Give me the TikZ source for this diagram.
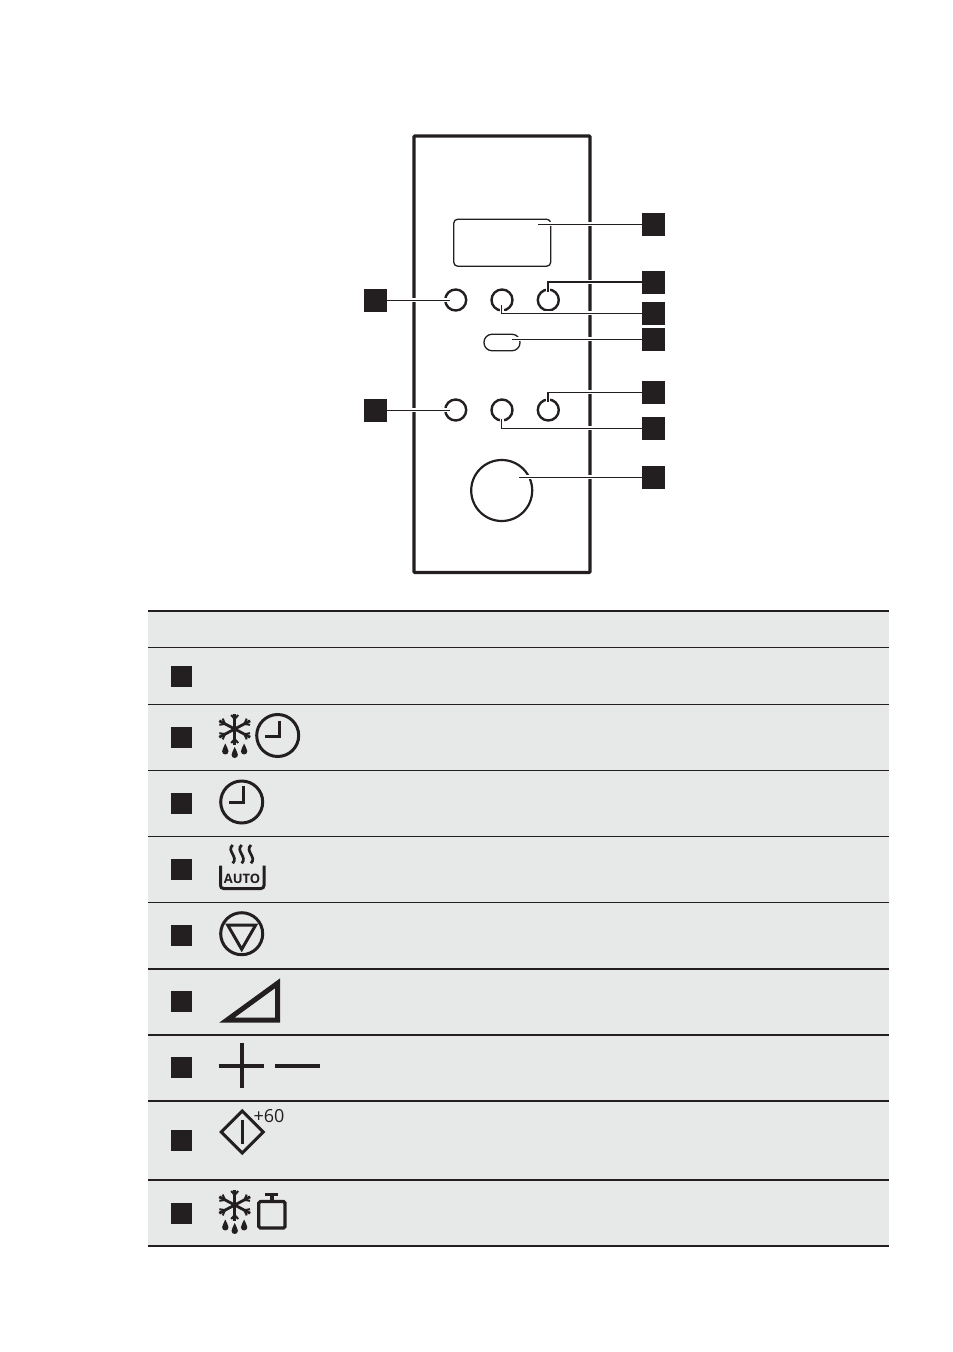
\documentclass[tikz,border=0pt]{standalone}
\usepackage{fontspec}
\setmainfont{Open Sans}
\definecolor{inkblack}{HTML}{231F20}
\definecolor{rowgray}{HTML}{E7E8E8}
\tikzset{
  keybox/.style={fill=inkblack,minimum size=23pt,inner sep=0pt},
  rowbox/.style={fill=inkblack,minimum size=21pt,inner sep=0pt},
  btn/.style={circle,draw=inkblack,line width=2.4pt,minimum size=21pt,inner sep=0pt},
  leader/.style={draw=inkblack,line width=1.4pt,preaction={draw=white,line width=4pt}},
  rule/.style={draw=inkblack,line width=1.3pt},
  rulethick/.style={draw=inkblack,line width=2.2pt},
  icon/.style={draw=inkblack,line width=3pt},
  snowdrops/.pic={
    \draw[icon,line width=2.8pt] (0,-15.5) -- (0,15.5);
    \foreach \a in {90,270}
      \draw[icon,line width=2pt,rotate=\a] (10,0) -- (14,3.5) (10,0) -- (14,-3.5);
    \foreach \a in {28,152,208,332}
      \draw[icon,line width=2.8pt,rotate=\a] (0,0) -- (17.5,0);
    \foreach \a in {28,152,208,332}
      \draw[icon,line width=2pt,rotate=\a] (11,0) -- (15.5,3.5) (11,0) -- (15.5,-3.5);
    \foreach \dx/\dy in {-9.4/20.5,0/24,9.4/20.5}
      \fill[inkblack,shift={(\dx,\dy)}] (0,-6) .. controls (1,-3) and (3.2,-0.5) .. (3.2,1.8)
        .. controls (3.2,6) and (-3.2,6) .. (-3.2,1.8) .. controls (-3.2,-0.5) and (-1,-3) .. (0,-6);
  }
}
\begin{document}
\begin{tikzpicture}[x=1pt,y=-1pt]
\useasboundingbox (0,0) rectangle (953,1352);
% panel
\draw[inkblack,line width=3.2pt,rounded corners=1pt] (414,136) rectangle (590,572.5);
\node[draw=inkblack,line width=1.3pt,rounded corners=4pt,minimum width=97pt,minimum height=47pt,inner sep=0pt] (display) at (502.2,242.7) {};
\node[btn] (btnA) at (455.7,300) {};
\node[btn] (btnB) at (502,300) {};
\node[btn] (btnC) at (548.3,300) {};
\node[btn] (btnD) at (455.7,410) {};
\node[btn] (btnE) at (502,410) {};
\node[btn] (btnF) at (548.3,410) {};
\node[draw=inkblack,line width=1.3pt,rounded corners=8pt,minimum width=36pt,minimum height=16.5pt,inner sep=0pt] (pill) at (502,342.5) {};
\node[circle,draw=inkblack,line width=2.2pt,minimum size=61pt,inner sep=0pt] (knob) at (501.7,490.5) {};
% keys
\node[keybox] (keyA) at (653.5,224.3) {};
\node[keybox] (keyB) at (653.5,282.3) {};
\node[keybox] (keyC) at (653.5,313.3) {};
\node[keybox] (keyD) at (653.5,339.3) {};
\node[keybox] (keyE) at (653.5,392.3) {};
\node[keybox] (keyF) at (653.5,428.3) {};
\node[keybox] (keyG) at (653.5,477.3) {};
\node[keybox] (keyH) at (375.5,300.3) {};
\node[keybox] (keyI) at (375.5,410.3) {};
% leader ends
\coordinate (tipA) at (538,224.3);
\coordinate (tipB) at (548,292);
\coordinate (tipC) at (501.7,305);
\coordinate (tipD) at (512.3,339.3);
\coordinate (tipE) at (548,401.7);
\coordinate (tipF) at (501.7,419.3);
\coordinate (tipG) at (519.3,477.3);
\coordinate (tipH) at (450,300.3);
\coordinate (tipI) at (450,410.3);
\draw[leader] (keyA.west) -- (tipA);
\draw[leader,line width=1.8pt] (keyB.west) -| (tipB);
\draw[leader] (keyC.west) -| (tipC);
\draw[leader] (keyD.west) -- (tipD);
\draw[leader] (keyE.west) -| (tipE);
\draw[leader] (keyF.west) -| (tipF);
\draw[leader] (keyG.west) -- (tipG);
\draw[leader] (keyH.east) -- (tipH);
\draw[leader] (keyI.east) -- (tipI);
% table
\fill[rowgray] (148,611) rectangle (888.5,1246);
\draw[rulethick] (148,611) -- (888.5,611);
\draw[rule] (148,647.3) -- (888.5,647.3);
\draw[rule] (148,704.3) -- (888.5,704.3);
\draw[rule] (148,770.3) -- (888.5,770.3);
\draw[rule] (148,836.3) -- (888.5,836.3);
\draw[rule] (148,902.5) -- (888.5,902.5);
\draw[rulethick] (148,968.7) -- (888.5,968.7);
\draw[rulethick] (148,1035) -- (888.5,1035);
\draw[rulethick] (148,1101) -- (888.5,1101);
\draw[rulethick] (148,1180) -- (888.5,1180);
\draw[rulethick] (148,1246) -- (888.5,1246);
\node[rowbox] (rowA) at (181.5,676) {};
\node[rowbox] (rowB) at (181.5,737.3) {};
\node[rowbox] (rowC) at (181.5,803.3) {};
\node[rowbox] (rowD) at (181.5,869.3) {};
\node[rowbox] (rowE) at (181.5,935.3) {};
\node[rowbox] (rowF) at (181.5,1001.7) {};
\node[rowbox] (rowG) at (181.5,1067.7) {};
\node[rowbox] (rowH) at (181.5,1140.3) {};
\node[rowbox] (rowI) at (181.5,1213) {};
% row icons
\pic at (234.7,729) {snowdrops};
\draw[icon] (277.7,735.5) circle (21);
\draw[icon] (279.3,720.7) -- (279.3,736) -- (265,736);
\draw[icon] (241.7,802) circle (21);
\draw[icon] (243.3,786) -- (243.3,802) -- (229.3,802);
\draw[icon,rounded corners=3pt] (220.5,865.7) -- (220.5,888.5) -- (264,888.5) -- (264,865.7);
\node[font=\bfseries\fontsize{13}{13}\selectfont,text=inkblack,inner sep=0pt] (autotext) at (242,879) {AUTO};
\draw[icon,line width=2.7pt] (232.7,845) .. controls (226,851) and (239,857) .. (232.7,863.3);
\draw[icon,line width=2.7pt] (241.7,845) .. controls (235,851) and (248,857) .. (241.7,863.3);
\draw[icon,line width=2.7pt] (251,845) .. controls (244.3,851) and (257.3,857) .. (251,863.3);
\draw[icon] (241.7,933.7) circle (21);
\draw[icon,line join=miter] (227.7,925) -- (255.7,925) -- (241.7,949.3) -- cycle;
\draw[icon,line width=5pt,line join=miter] (226.8,1020.2) -- (277.5,1020.2) -- (277.5,983.3) -- cycle;
\draw[icon,line width=4.2pt] (218.7,1065.7) -- (264.3,1065.7);
\draw[icon,line width=4.2pt] (241.7,1043.3) -- (241.7,1088.3);
\draw[icon,line width=4.2pt] (275,1065.7) -- (320.3,1065.7);
\draw[icon,line join=miter] (242.3,1111) -- (263.3,1132) -- (242.3,1153) -- (221.3,1132) -- cycle;
\draw[icon] (242.3,1120) -- (242.3,1144);
\node[font=\fontsize{18}{18}\selectfont,text=inkblack,inner sep=0pt] (plussixty) at (269,1116) {+60};
\pic at (234.7,1205) {snowdrops};
\draw[icon,line width=3.2pt,rounded corners=1.5pt] (258.8,1201.5) rectangle (285,1228);
\draw[icon,line width=3.2pt] (265.3,1194.5) -- (278,1194.5) (272,1194.5) -- (272,1201.5);
\end{tikzpicture}
\end{document}
